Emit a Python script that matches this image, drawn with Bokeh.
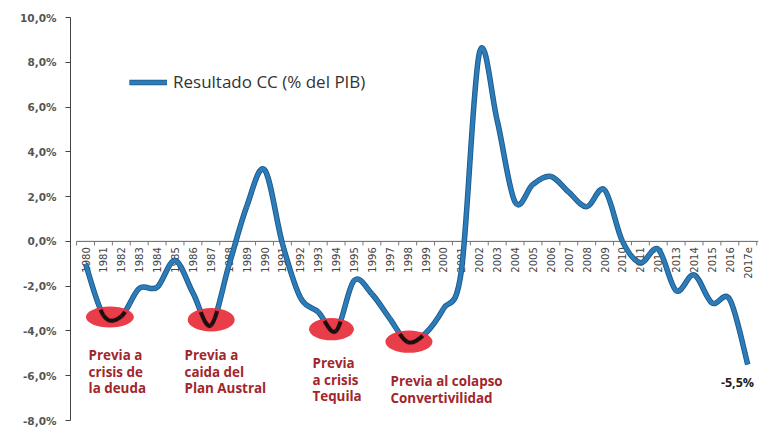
import numpy as np
from bokeh.plotting import figure
from bokeh.models import Range1d, Legend, LegendItem, Label, FixedTicker, ColumnDataSource
from bokeh.core.properties import value
from bokeh.embed import file_html
from bokeh.resources import INLINE

# ---------------- data ----------------
years = [str(y) for y in range(1980, 2017)] + ["2017e"]
cc = [-1.0, -3.3, -3.35, -2.1, -2.05, -0.85, -2.3, -3.75, -1.1, 1.55,
      3.2, -0.1, -2.5, -3.15, -4.0, -1.75, -2.35, -3.45, -4.5, -4.1,
      -3.0, -1.3, 8.4, 5.4, 1.75, 2.55, 2.9, 2.2, 1.55, 2.3,
      0.0, -0.95, -0.35, -2.2, -1.5, -2.75, -2.6, -5.5]
y_ticks = [-8, -6, -4, -2, 0, 2, 4, 6, 8, 10]
y_tick_labels = ["-8,0%", "-6,0%", "-4,0%", "-2,0%", "0,0%", "2,0%", "4,0%", "6,0%", "8,0%", "10,0%"]
series_name = "Resultado CC (% del PIB)"
notes = ["Previa a\ncrisis de\nla deuda", "Previa a\ncaida del\nPlan Austral",
         "Previa\na crisis\nTequila", "Previa al colapso\nConvertivilidad"]
last_label = "-5,5%"

BLUE = "#2b7cb8"
DARK = "#1d5787"
RED = "#e8333f"
NOTE = "#a1262c"

x = np.arange(len(years), dtype=float)
yv = np.array(cc, dtype=float)

p = figure(width=768, height=429, x_range=Range1d(-0.84, 37.6), y_range=Range1d(-8, 10),
           output_backend="svg", toolbar_location=None, x_axis_location=None,
           min_border_left=70, min_border_right=10, min_border_top=17, min_border_bottom=9)
p.xgrid.grid_line_color = None
p.ygrid.grid_line_color = None
p.outline_line_color = None
p.background_fill_color = "white"

ax = p.yaxis[0]
ax.ticker = FixedTicker(ticks=y_ticks)
ax.major_label_overrides = {t: l for t, l in zip(y_ticks, y_tick_labels)}
ax.minor_tick_line_color = None
ax.major_tick_in = 0
ax.major_tick_out = 5
ax.major_label_standoff = 9
ax.axis_line_color = "#444444"
ax.major_tick_line_color = "#444444"
ax.major_label_text_font = "DejaVu Sans"
ax.major_label_text_font_style = "bold"
ax.major_label_text_font_size = "10.5px"
ax.major_label_text_color = "#555555"

# category axis along the zero line
p.segment(x0=[-0.5], y0=[0], x1=[x[-1] + 0.6], y1=[0], line_color="#666666", line_width=1)
bounds = np.arange(len(years) + 1) - 0.5
p.segment(x0=bounds, y0=np.zeros_like(bounds), x1=bounds, y1=np.full_like(bounds, -0.18),
          line_color="#777777", line_width=1)
p.text(x=x, y=np.full_like(x, -0.26), text=years, angle=np.pi / 2, text_align="right",
       text_baseline="middle", text_font=value("DejaVu Sans"),
       text_font_size="10px", text_color="#444444")

# smooth line as Bezier segments (Catmull-Rom control points)
P = np.column_stack([x, yv])
n = len(P)
Pm = np.vstack([P[0], P, P[-1]])
c0 = Pm[1:n] + (Pm[2:n + 1] - Pm[0:n - 1]) / 6.0
c1 = Pm[2:n + 1] - (Pm[3:n + 2] - Pm[1:n]) / 6.0
seg = dict(x0=P[:-1, 0], y0=P[:-1, 1], x1=P[1:, 0], y1=P[1:, 1],
           cx0=c0[:, 0], cy0=c0[:, 1], cx1=c1[:, 0], cy1=c1[:, 1])
src = ColumnDataSource(seg)
r_dark = p.bezier(x0="x0", y0="y0", x1="x1", y1="y1", cx0="cx0", cy0="cy0", cx1="cx1", cy1="cy1",
                  source=src, line_color=DARK, line_width=5.5)
r_blue = p.bezier(x0="x0", y0="y0", x1="x1", y1="y1", cx0="cx0", cy0="cy0", cx1="cx1", cy1="cy1",
                  source=src, line_color=BLUE, line_width=3.8)

# highlighted troughs
ell_x = [1.36, 7.02, 13.74, 18.07]
ell_y = [-3.38, -3.5, -3.92, -4.48]
ell_w = [2.68, 2.63, 2.51, 2.63]
ell_h = [0.94, 1.04, 0.99, 0.99]
p.ellipse(x=ell_x, y=ell_y, width=ell_w, height=ell_h, fill_color=RED, line_color=None, fill_alpha=0.95)


def bez_pt(c, t):
    a, b, cc_, d = c
    return ((1 - t) ** 3)[:, None] * a + (3 * (1 - t) ** 2 * t)[:, None] * b + \
           (3 * (1 - t) * t ** 2)[:, None] * cc_ + (t ** 3)[:, None] * d


def split(c, t):
    a, b, cc_, d = c
    ab = a + (b - a) * t
    bc = b + (cc_ - b) * t
    cd = cc_ + (d - cc_) * t
    abc = ab + (bc - ab) * t
    bcd = bc + (cd - bc) * t
    m = abc + (bcd - abc) * t
    return (a, ab, abc, m), (m, bcd, cd, d)


def sub(c, t0, t1):
    left, _ = split(c, t1)
    if t1 <= 0:
        return left
    _, right = split(left, t0 / t1)
    return right


bx0, by0, bx1, by1, bcx0, bcy0, bcx1, bcy1 = ([] for _ in range(8))
ts = np.linspace(0, 1, 201)
for ex, ey, ew, eh in zip(ell_x, ell_y, ell_w, ell_h):
    for i in range(n - 1):
        c = (P[i], c0[i], c1[i], P[i + 1])
        pts = bez_pt(c, ts)
        inside = ((pts[:, 0] - ex) / (ew / 2 * 0.8)) ** 2 + ((pts[:, 1] - ey) / (eh / 2 * 0.8)) ** 2 < 1
        if inside.any():
            idx = np.where(inside)[0]
            s = sub(c, ts[idx[0]], ts[idx[-1]])
            bx0.append(s[0][0]); by0.append(s[0][1])
            bcx0.append(s[1][0]); bcy0.append(s[1][1])
            bcx1.append(s[2][0]); bcy1.append(s[2][1])
            bx1.append(s[3][0]); by1.append(s[3][1])
p.bezier(x0=bx0, y0=by0, x1=bx1, y1=by1, cx0=bcx0, cy0=bcy0, cx1=bcx1, cy1=bcy1,
         line_color="#1a1010", line_width=4)

# notes
note_x = [0.17, 5.53, 12.68, 17.04]
note_y = [-4.69, -4.69, -5.05, -5.85]
p.text(x=note_x, y=note_y, text=notes, text_align="left", text_baseline="top",
       text_font=value("Open Sans"), text_font_style="bold", text_font_size="13.4px",
       text_color=NOTE, text_line_height=0.9)

p.text(x=[35.5], y=[-6.3], text=[last_label], text_align="left", text_baseline="middle",
       text_font=value("Open Sans"), text_font_style="bold", text_font_size="12.5px",
       text_color="#222222")

# legend
leg = Legend(items=[LegendItem(label=series_name, renderers=[r_dark, r_blue], index=0)],
             location=(59, 327),
             glyph_width=38, glyph_height=20, label_standoff=6, padding=0, margin=0,
             border_line_color=None, background_fill_alpha=0,
             label_text_font="Open Sans", label_text_font_size="17px", label_text_color="#333333")
p.add_layout(leg, "center")

open("out.html", "w").write(file_html(p, INLINE))
